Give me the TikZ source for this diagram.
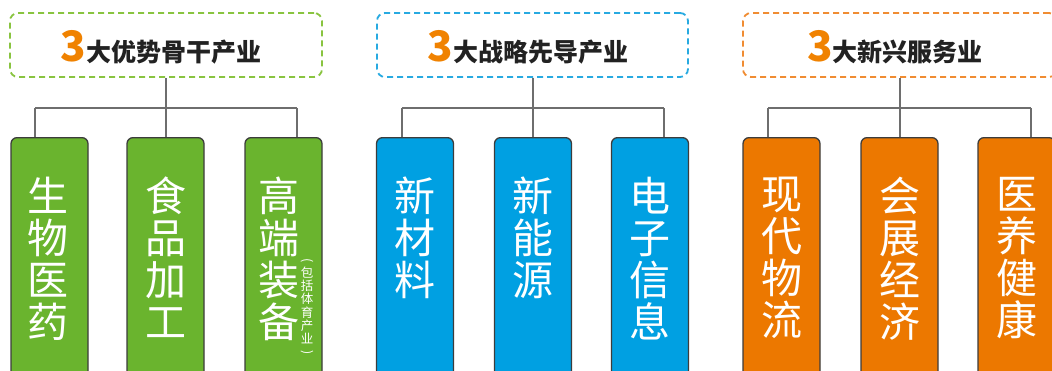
\documentclass[tikz,border=0pt]{standalone}
\usepackage{fontspec}
\setmainfont{Noto Sans CJK SC}
\newfontfamily\cjk{Noto Sans CJK SC}
\definecolor{barG}{RGB}{106,180,46}
\definecolor{barB}{RGB}{0,160,226}
\definecolor{barO}{RGB}{236,120,0}
\definecolor{dashG}{RGB}{137,196,64}
\definecolor{dashB}{RGB}{40,170,225}
\definecolor{dashO}{RGB}{240,140,50}
\definecolor{digitO}{RGB}{240,130,0}
\definecolor{titleK}{RGB}{34,34,34}
\definecolor{connC}{RGB}{110,110,110}
\definecolor{edgeC}{RGB}{60,60,60}
\tikzset{
  hdr/.style={draw, line width=1.8pt, dash pattern=on 6pt off 4pt, rounded corners=8pt,
    minimum width=#1, minimum height=64pt, inner sep=0pt},
  ttl/.style={anchor=base, inner sep=0pt, text=titleK},
  barbox/.style={draw=edgeC, line width=1.3pt, rounded corners=6pt, minimum width=77pt,
    minimum height=245pt, anchor=north, inner sep=0pt},
  bartext/.style={anchor=north, inner sep=0pt, align=center, text=white,
    font=\cjk\fontsize{41}{42}\selectfont},
  smalltext/.style={anchor=north, inner sep=0pt, align=center, text=white,
    font=\cjk\fontsize{12.5}{13.2}\selectfont},
  conn/.style={draw=connC, line width=1.1pt}
}
\newcommand{\ttltext}[1]{{\color{digitO}\fontsize{42}{42}\selectfont\bfseries 3}{\fontsize{25}{25}\selectfont\bfseries #1}}
\newcommand{\vparen}[1]{\rotatebox[origin=c]{-90}{#1}}
\lineskiplimit=-100pt
\begin{document}
\begin{tikzpicture}[x=1pt,y=-1pt]
\useasboundingbox (0,0) rectangle (1052,370);
\clip (0,0) rectangle (1052,370);
\fill[white] (0,0) rectangle (1052,370);

% headers
\node[hdr=312pt, draw=dashG] (h1) at (166,45) {};
\node[hdr=311pt, draw=dashB] (h2) at (532.5,45) {};
\node[hdr=314pt, draw=dashO] (h3) at (900,45) {};
\node[ttl] (t1) at (161,61) {\ttltext{大优势骨干产业}};
\node[ttl] (t2) at (528,61) {\ttltext{大战略先导产业}};
\node[ttl] (t3) at (895,61) {\ttltext{大新兴服务业}};

% bars
\node[barbox, fill=barG] (b1) at (49.5,137) {};
\node[barbox, fill=barG] (b2) at (165.5,137) {};
\node[barbox, fill=barG] (b3) at (283.5,137) {};
\node[barbox, fill=barB] (b4) at (415,137) {};
\node[barbox, fill=barB] (b5) at (533,137) {};
\node[barbox, fill=barB] (b6) at (650,137) {};
\node[barbox, fill=barO] (b7) at (781.5,137) {};
\node[barbox, fill=barO] (b8) at (899.5,137) {};
\node[barbox, fill=barO] (b9) at (1016.5,137) {};

% bar texts
\node[bartext] (x1) at (48,177) {生\\物\\医\\药};
\node[bartext] (x2) at (165.5,177) {食\\品\\加\\工};
\node[bartext] (x3) at (279,177) {高\\端\\装\\备};
\node[smalltext] (s3) at (307,258) {\vparen{(}\\包\\括\\体\\育\\产\\业\\\vparen{)}};
\node[bartext] (x4) at (415,177) {新\\材\\料};
\node[bartext] (x5) at (533,177) {新\\能\\源};
\node[bartext] (x6) at (650,177) {电\\子\\信\\息};
\node[bartext] (x7) at (781.5,177) {现\\代\\物\\流};
\node[bartext] (x8) at (899.5,177) {会\\展\\经\\济};
\node[bartext] (x9) at (1016.5,177) {医\\养\\健\\康};

% connectors
\coordinate (d1) at (35,108);
\coordinate (d2) at (166,108);
\coordinate (d3) at (297,108);
\coordinate (d4) at (402,108);
\coordinate (d5) at (533,108);
\coordinate (d6) at (664,108);
\coordinate (d7) at (768,108);
\coordinate (d8) at (900,108);
\coordinate (d9) at (1031,108);
\draw[conn] (h1.south -| d2) -- (d2);
\draw[conn] (h2.south -| d5) -- (d5);
\draw[conn] (h3.south -| d8) -- (d8);
\draw[conn] (d1) -- (d3);
\draw[conn] (d4) -- (d6);
\draw[conn] (d7) -- (d9);
\draw[conn] (d1) -- (d1 |- b1.north);
\draw[conn] (d2) -- (d2 |- b2.north);
\draw[conn] (d3) -- (d3 |- b3.north);
\draw[conn] (d4) -- (d4 |- b4.north);
\draw[conn] (d5) -- (d5 |- b5.north);
\draw[conn] (d6) -- (d6 |- b6.north);
\draw[conn] (d7) -- (d7 |- b7.north);
\draw[conn] (d8) -- (d8 |- b8.north);
\draw[conn] (d9) -- (d9 |- b9.north);
\end{tikzpicture}
\end{document}
